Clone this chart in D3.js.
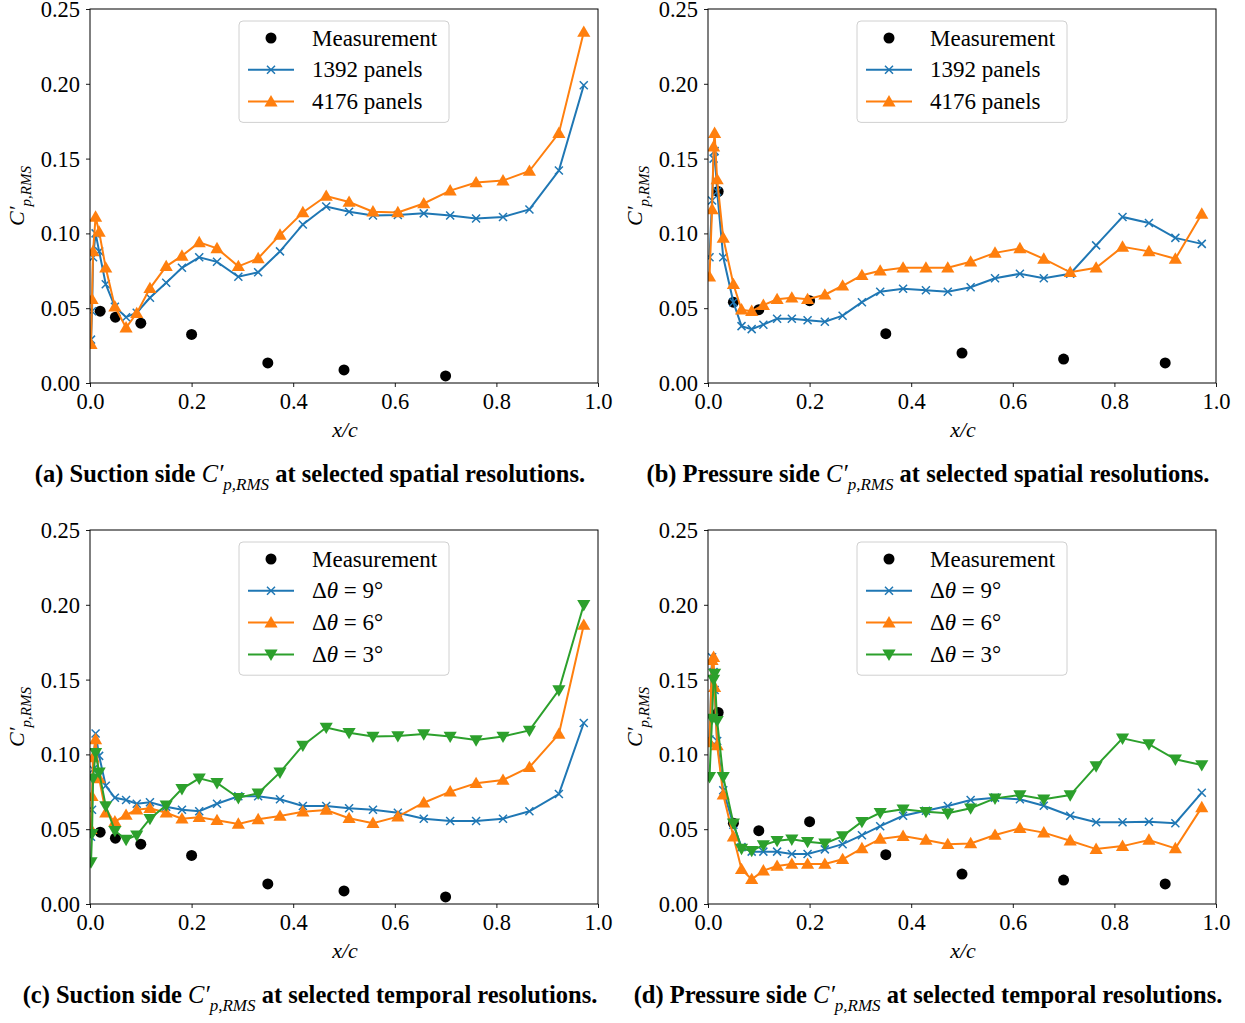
<!DOCTYPE html>
<html>
<head>
<meta charset="utf-8">
<script src="https://cdn.jsdelivr.net/npm/d3@7"></script>
<style>
  body { margin: 0; background: #fff; }
  svg text { font-family: "Liberation Serif", "Times New Roman", serif; }
</style>
</head>
<body>
<div id="chart"></div>
<script>
// x/c positions of the panel centres (suction and pressure side)
const xSuction = [0.002, 0.004, 0.006, 0.011, 0.018, 0.031, 0.049, 0.071, 0.092, 0.118, 0.150, 0.181, 0.215, 0.250, 0.292,
  0.331, 0.374, 0.419, 0.465, 0.510, 0.557, 0.606, 0.657, 0.709, 0.760, 0.813, 0.865, 0.923, 0.972];
const xPressure = [0.003, 0.008, 0.011, 0.013, 0.018, 0.030, 0.050, 0.066, 0.086, 0.109, 0.136, 0.165, 0.196, 0.230, 0.265,
  0.303, 0.339, 0.384, 0.429, 0.472, 0.517, 0.565, 0.614, 0.661, 0.713, 0.764, 0.816, 0.868, 0.920, 0.972];

// measurements
const measSuctionX = [0.02, 0.05, 0.1, 0.2, 0.35, 0.5, 0.7];
const measSuctionY = [0.048, 0.044, 0.040, 0.0325, 0.0134, 0.0087, 0.0047];
const measPressureX = [0.02, 0.05, 0.1, 0.2, 0.35, 0.5, 0.7, 0.9];
const measPressureY = [0.128, 0.054, 0.049, 0.055, 0.033, 0.020, 0.016, 0.0134];

// (a) suction side, spatial resolution
const sucPanels1392 = [0.029, 0.048, 0.084, 0.100, 0.088, 0.066, 0.051, 0.044, 0.047, 0.057, 0.067, 0.077, 0.084, 0.081, 0.071,
  0.074, 0.088, 0.106, 0.118, 0.1145, 0.112, 0.1123, 0.1134, 0.112, 0.110, 0.111, 0.116, 0.142, 0.199];
const sucPanels4176 = [0.026, 0.056, 0.088, 0.111, 0.101, 0.077, 0.051, 0.037, 0.0466, 0.0633, 0.078, 0.085, 0.094, 0.090, 0.078,
  0.0833, 0.099, 0.114, 0.125, 0.121, 0.1145, 0.114, 0.120, 0.1286, 0.134, 0.1353, 0.1417, 0.167, 0.2346];

// (b) pressure side, spatial resolution
const presPanels1392 = [0.084, 0.122, 0.150, 0.155, 0.128, 0.084, 0.054, 0.038, 0.036, 0.039, 0.043, 0.043, 0.042, 0.041, 0.045,
  0.054, 0.061, 0.063, 0.062, 0.061, 0.064, 0.070, 0.073, 0.070, 0.073, 0.092, 0.111, 0.107, 0.097, 0.093];
const presPanels4176 = [0.071, 0.116, 0.158, 0.167, 0.136, 0.097, 0.066, 0.049, 0.048, 0.052, 0.056, 0.057, 0.056, 0.059, 0.065,
  0.072, 0.075, 0.077, 0.077, 0.077, 0.081, 0.087, 0.090, 0.083, 0.074, 0.077, 0.091, 0.088, 0.083, 0.113];

// (c) suction side, temporal resolution
const sucDt9 = [0.045, 0.063, 0.090, 0.114, 0.099, 0.079, 0.071, 0.0695, 0.067, 0.068, 0.065, 0.063, 0.062, 0.067, 0.072,
  0.072, 0.070, 0.0655, 0.0655, 0.064, 0.063, 0.061, 0.057, 0.0555, 0.0555, 0.057, 0.062, 0.0735, 0.121];
const sucDt6 = [0.050, 0.072, 0.098, 0.110, 0.084, 0.061, 0.055, 0.0595, 0.063, 0.064, 0.061, 0.057, 0.058, 0.056, 0.0535,
  0.0566, 0.0588, 0.0617, 0.0628, 0.0573, 0.054, 0.0584, 0.0677, 0.0751, 0.0807, 0.0829, 0.0914, 0.1136, 0.1865];
const sucDt3 = [0.028, 0.047, 0.084, 0.101, 0.088, 0.0655, 0.049, 0.043, 0.046, 0.057, 0.066, 0.077, 0.084, 0.081, 0.071,
  0.074, 0.088, 0.106, 0.118, 0.1145, 0.112, 0.1123, 0.1136, 0.112, 0.1096, 0.112, 0.116, 0.143, 0.200];

// (d) pressure side, temporal resolution
const presDt9 = [0.110, 0.165, 0.155, 0.143, 0.109, 0.076, 0.053, 0.038, 0.035, 0.035, 0.035, 0.0334, 0.0334, 0.0365, 0.040,
  0.046, 0.052, 0.059, 0.0623, 0.0655, 0.0695, 0.0711, 0.070, 0.0657, 0.059, 0.0546, 0.0546, 0.055, 0.054, 0.0744];
const presDt6 = [0.108, 0.163, 0.165, 0.145, 0.106, 0.073, 0.045, 0.0232, 0.0165, 0.0223, 0.0254, 0.0267, 0.0267, 0.0267, 0.0299,
  0.0372, 0.0435, 0.0454, 0.0428, 0.0399, 0.0405, 0.0461, 0.0506, 0.0477, 0.0423, 0.0367, 0.0387, 0.0428, 0.0372, 0.0646];
const presDt3 = [0.085, 0.124, 0.150, 0.154, 0.1225, 0.085, 0.054, 0.037, 0.0356, 0.0394, 0.0423, 0.0432, 0.0416, 0.0405, 0.0454,
  0.055, 0.061, 0.0633, 0.0617, 0.0606, 0.064, 0.0706, 0.0728, 0.070, 0.0728, 0.0922, 0.1107, 0.1069, 0.0967, 0.0929];

const xTicks = [0, 0.2, 0.4, 0.6, 0.8, 1.0];
const yTicks = [0, 0.05, 0.10, 0.15, 0.20, 0.25];

const blue = "#1f77b4", orange = "#ff7f0e", green = "#2ca02c";

const svg = d3.select("#chart").append("svg")
  .attr("width", 1245)
  .attr("height", 1023);

const panels = [
  {left: 90, top: 9, letter: "(a)", side: "Suction side", res: "spatial",
   measX: measSuctionX, measY: measSuctionY, xs: xSuction,
   series: [{label: "1392 panels", y: sucPanels1392, color: blue, marker: "x"},
            {label: "4176 panels", y: sucPanels4176, color: orange, marker: "up"}]},
  {left: 708, top: 9, letter: "(b)", side: "Pressure side", res: "spatial",
   measX: measPressureX, measY: measPressureY, xs: xPressure,
   series: [{label: "1392 panels", y: presPanels1392, color: blue, marker: "x"},
            {label: "4176 panels", y: presPanels4176, color: orange, marker: "up"}]},
  {left: 90, top: 530, letter: "(c)", side: "Suction side", res: "temporal",
   measX: measSuctionX, measY: measSuctionY, xs: xSuction,
   series: [{label: "9", y: sucDt9, color: blue, marker: "x"},
            {label: "6", y: sucDt6, color: orange, marker: "up"},
            {label: "3", y: sucDt3, color: green, marker: "down"}]},
  {left: 708, top: 530, letter: "(d)", side: "Pressure side", res: "temporal",
   measX: measPressureX, measY: measPressureY, xs: xPressure,
   series: [{label: "9", y: presDt9, color: blue, marker: "x"},
            {label: "6", y: presDt6, color: orange, marker: "up"},
            {label: "3", y: presDt3, color: green, marker: "down"}]}
];

const W = 508, H = 374;

function drawMarker(g, type, color) {
  if (type === "x") {
    g.append("path").attr("d", "M-4,-4L4,4M-4,4L4,-4")
      .attr("stroke", color).attr("stroke-width", 1.5).attr("fill", "none");
  } else if (type === "up") {
    g.append("path").attr("d", d3.symbol().type(d3.symbolTriangle).size(75)())
      .attr("transform", "translate(0,1)").attr("fill", color);
  } else if (type === "down") {
    g.append("path").attr("d", d3.symbol().type(d3.symbolTriangle).size(75)())
      .attr("transform", "translate(0,-1) rotate(180)").attr("fill", color);
  } else {
    g.append("circle").attr("r", 5.5).attr("fill", "black");
  }
}

panels.forEach(p => {
  const g = svg.append("g").attr("transform", `translate(${p.left},${p.top})`);
  const x = d3.scaleLinear().domain([0, 1]).range([0, W]);
  const y = d3.scaleLinear().domain([0, 0.25]).range([H, 0]);

  // axes
  const xAxis = g.append("g").attr("transform", `translate(0,${H})`)
    .call(d3.axisBottom(x).tickValues(xTicks).tickFormat(d3.format(".1f")).tickSize(4).tickPadding(4));
  const yAxis = g.append("g")
    .call(d3.axisLeft(y).tickValues(yTicks).tickFormat(d3.format(".2f")).tickSize(4).tickPadding(6));
  [xAxis, yAxis].forEach(a => {
    a.select(".domain").remove();
    a.selectAll("line").attr("stroke", "#000").attr("stroke-width", 0.9);
    a.selectAll("text").attr("font-size", 22.5).attr("fill", "#000");
  });
  xAxis.selectAll("text").attr("dy", "0.8em");
  yAxis.selectAll("text").attr("dy", "0.33em");

  // clip for data
  const clipId = "clip" + p.letter.replace(/\W/g, "");
  g.append("clipPath").attr("id", clipId).append("rect")
    .attr("x", 0).attr("y", 0).attr("width", W).attr("height", H);
  const plot = g.append("g").attr("clip-path", `url(#${clipId})`);

  // measurements
  plot.selectAll(".meas").data(p.measX.map((d, i) => [d, p.measY[i]]))
    .enter().append("circle")
    .attr("cx", d => x(d[0])).attr("cy", d => y(d[1]))
    .attr("r", 5.5).attr("fill", "black");

  // simulation series
  p.series.forEach(s => {
    const pts = p.xs.map((d, i) => [d, s.y[i]]);
    plot.append("path").datum(pts)
      .attr("d", d3.line().x(d => x(d[0])).y(d => y(d[1])))
      .attr("fill", "none").attr("stroke", s.color).attr("stroke-width", 2);
    pts.forEach(d => {
      const m = plot.append("g").attr("transform", `translate(${x(d[0])},${y(d[1])})`);
      drawMarker(m, s.marker, s.color);
    });
  });

  // frame
  g.append("rect").attr("x", 0).attr("y", 0).attr("width", W).attr("height", H)
    .attr("fill", "none").attr("stroke", "#000").attr("stroke-width", 1);

  // axis labels
  g.append("text").attr("x", W / 2 + 1).attr("y", H + 54)
    .attr("text-anchor", "middle").attr("font-size", 22).style("font-style", "italic")
    .text("x/c");
  const yl = g.append("text").attr("transform", `translate(-66,${H / 2}) rotate(-90)`)
    .attr("text-anchor", "middle").attr("font-size", 22).style("font-style", "italic");
  yl.append("tspan").text("C′");
  yl.append("tspan").attr("font-size", 15).attr("dy", 7).text("p,RMS");

  // legend
  const entries = [{label: "Measurement", marker: "dot"}].concat(p.series.map(s => ({
    label: s.label, marker: s.marker, color: s.color, temporal: p.res === "temporal"})));
  const lg = g.append("g").attr("transform", `translate(149,12)`);
  lg.append("rect").attr("x", 0).attr("y", 0).attr("width", 210)
    .attr("height", 6 + entries.length * 31.8)
    .attr("rx", 4).attr("fill", "white").attr("fill-opacity", 0.8)
    .attr("stroke", "#d0d0d0").attr("stroke-width", 1);
  entries.forEach((e, i) => {
    const cy = 17 + i * 31.8;
    const eg = lg.append("g").attr("transform", `translate(0,${cy})`);
    if (e.marker !== "dot") {
      eg.append("line").attr("x1", 9).attr("x2", 55).attr("y1", 0).attr("y2", 0)
        .attr("stroke", e.color).attr("stroke-width", 2);
    }
    const mg = eg.append("g").attr("transform", "translate(32,0)");
    drawMarker(mg, e.marker, e.color || "black");
    const t = eg.append("text").attr("x", 73).attr("y", 0).attr("dy", "0.33em").attr("font-size", 23);
    if (e.temporal) {
      t.append("tspan").text("Δ");
      t.append("tspan").style("font-style", "italic").text("θ");
      t.append("tspan").text(" = " + e.label + "°");
    } else {
      t.text(e.label);
    }
  });

  // caption
  const cap = svg.append("text").attr("x", p.left + W / 2 - 34)
    .attr("y", p.top + H + 99).attr("text-anchor", "middle")
    .attr("font-size", 24.5).attr("font-weight", "bold");
  cap.append("tspan").text(`${p.letter} ${p.side} `);
  cap.append("tspan").style("font-style", "italic").attr("font-weight", "normal").text("C′");
  cap.append("tspan").attr("font-size", 17).attr("dy", 8).style("font-style", "italic")
    .attr("font-weight", "normal").text("p,RMS");
  cap.append("tspan").attr("dy", -8).text(` at selected ${p.res} resolutions.`);
});
</script>
</body>
</html>
